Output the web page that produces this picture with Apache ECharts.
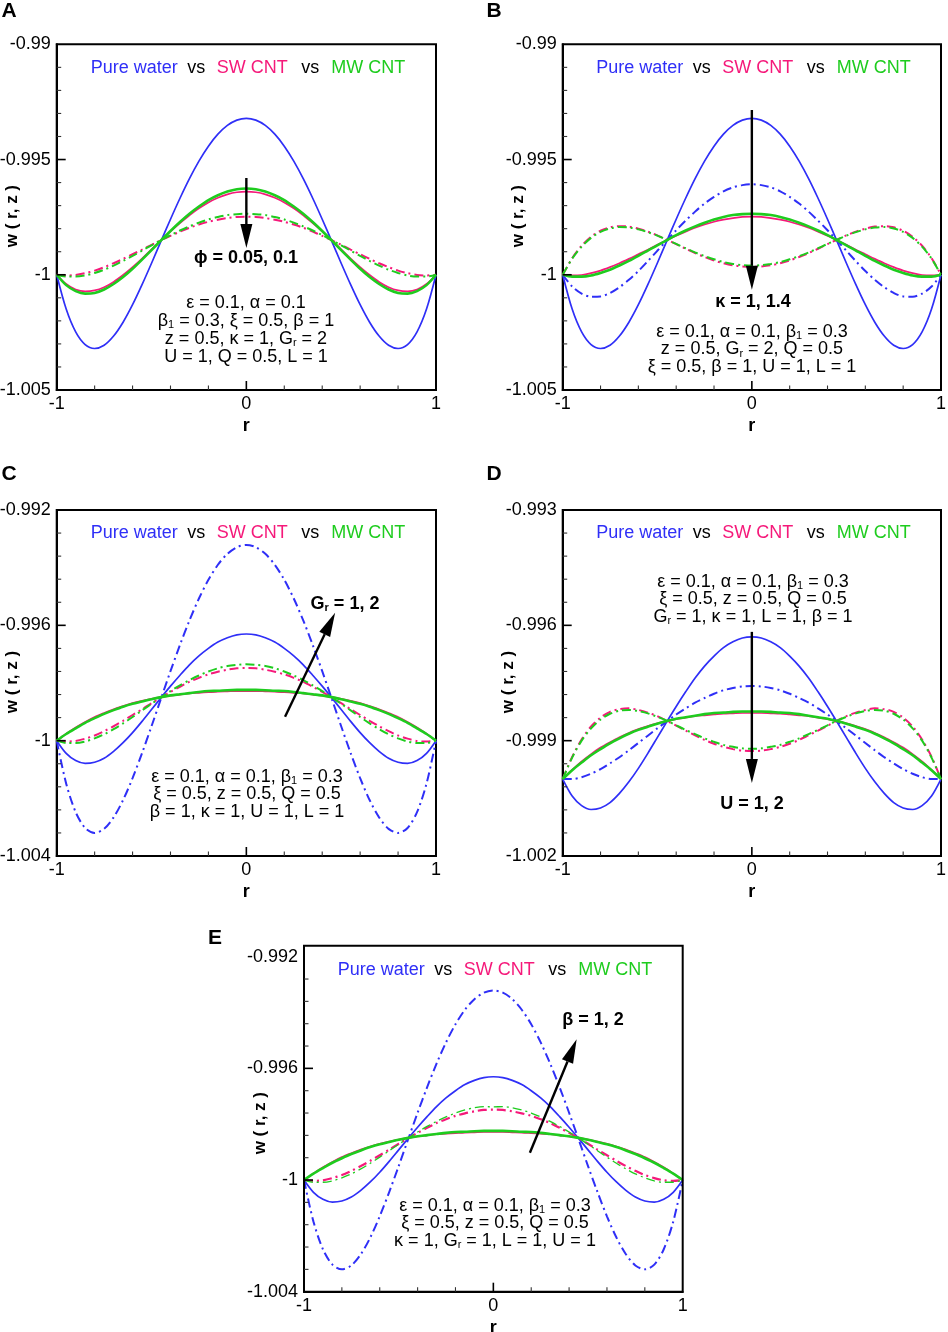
<!DOCTYPE html>
<html>
<head>
<meta charset="utf-8">
<script src="https://cdn.jsdelivr.net/npm/echarts@6.0.0/dist/echarts.min.js"></script>
<style>
html, body { margin: 0; padding: 0; background: #fff; }
#main { width: 948px; height: 1332px; }
</style>
</head>
<body>
<div id="main"></div>
<script>
// radial positions shared by all curves
var rVals = [-1, -0.95, -0.9, -0.85, -0.8, -0.75, -0.7, -0.65, -0.6, -0.55, -0.5, -0.45, -0.4, -0.35, -0.3, -0.25, -0.2, -0.15, -0.1, -0.05,
	0, 0.05, 0.1, 0.15, 0.2, 0.25, 0.3, 0.35, 0.4, 0.45, 0.5, 0.55, 0.6, 0.65, 0.7, 0.75, 0.8, 0.85, 0.9, 0.95, 1];

// (A) phi = 0.05 (solid), 0.1 (dash-dot)
var aWater   = [-1, -1.00149, -1.00248, -1.00303, -1.00320, -1.00306, -1.00266, -1.00206, -1.00130, -1.00043, -0.99950, -0.99854, -0.99759, -0.99668, -0.99583, -0.99507, -0.99442, -0.99390, -0.99352, -0.99329, -0.99321, -0.99329, -0.99352, -0.99390, -0.99442, -0.99507, -0.99583, -0.99668, -0.99759, -0.99854, -0.99950, -1.00043, -1.00130, -1.00206, -1.00266, -1.00306, -1.00320, -1.00303, -1.00248, -1.00149, -1];
var aSwSolid = [-1, -1.00040, -1.00064, -1.00072, -1.00068, -1.00054, -1.00031, -1.00001, -0.99967, -0.99930, -0.99890, -0.99851, -0.99812, -0.99776, -0.99742, -0.99712, -0.99686, -0.99666, -0.99651, -0.99642, -0.99639, -0.99642, -0.99651, -0.99666, -0.99686, -0.99712, -0.99742, -0.99776, -0.99812, -0.99851, -0.99890, -0.99930, -0.99967, -1.00001, -1.00031, -1.00054, -1.00068, -1.00072, -1.00064, -1.00040, -1];
var aMwSolid = [-1, -1.00045, -1.00071, -1.00082, -1.00079, -1.00064, -1.00040, -1.00010, -0.99974, -0.99934, -0.99893, -0.99851, -0.99810, -0.99771, -0.99735, -0.99704, -0.99676, -0.99655, -0.99639, -0.99629, -0.99626, -0.99629, -0.99639, -0.99655, -0.99676, -0.99704, -0.99735, -0.99771, -0.99810, -0.99851, -0.99893, -0.99934, -0.99974, -1.00010, -1.00040, -1.00064, -1.00079, -1.00082, -1.00071, -1.00045, -1];
var aSwDash  = [-1, -1.00003, -1.00001, -0.99993, -0.99982, -0.99967, -0.99950, -0.99931, -0.99911, -0.99891, -0.99870, -0.99850, -0.99831, -0.99813, -0.99796, -0.99782, -0.99770, -0.99761, -0.99754, -0.99749, -0.99748, -0.99749, -0.99754, -0.99761, -0.99770, -0.99782, -0.99796, -0.99813, -0.99831, -0.99850, -0.99870, -0.99891, -0.99911, -0.99931, -0.99950, -0.99967, -0.99982, -0.99993, -1.00001, -1.00003, -1];
var aMwDash  = [-1, -1.00008, -1.00008, -1.00003, -0.99992, -0.99978, -0.99960, -0.99940, -0.99918, -0.99895, -0.99872, -0.99850, -0.99828, -0.99808, -0.99790, -0.99774, -0.99760, -0.99749, -0.99741, -0.99737, -0.99735, -0.99737, -0.99741, -0.99749, -0.99760, -0.99774, -0.99790, -0.99808, -0.99828, -0.99850, -0.99872, -0.99895, -0.99918, -0.99940, -0.99960, -0.99978, -0.99992, -1.00003, -1.00008, -1.00008, -1];

// (B) kappa = 1 (solid), 1.4 (dash-dot)
var bWaterSolid = [-1, -1.00149, -1.00248, -1.00303, -1.00320, -1.00306, -1.00266, -1.00206, -1.00130, -1.00043, -0.99950, -0.99854, -0.99759, -0.99668, -0.99583, -0.99507, -0.99442, -0.99390, -0.99352, -0.99329, -0.99321, -0.99329, -0.99352, -0.99390, -0.99442, -0.99507, -0.99583, -0.99668, -0.99759, -0.99854, -0.99950, -1.00043, -1.00130, -1.00206, -1.00266, -1.00306, -1.00320, -1.00303, -1.00248, -1.00149, -1];
var bWaterDash  = [-1, -1.00051, -1.00082, -1.00095, -1.00094, -1.00079, -1.00054, -1.00022, -0.99984, -0.99941, -0.99896, -0.99851, -0.99807, -0.99765, -0.99726, -0.99691, -0.99662, -0.99638, -0.99621, -0.99611, -0.99607, -0.99611, -0.99621, -0.99638, -0.99662, -0.99691, -0.99726, -0.99765, -0.99807, -0.99851, -0.99896, -0.99941, -0.99984, -1.00022, -1.00054, -1.00079, -1.00094, -1.00095, -1.00082, -1.00051, -1];
var bSwSolid    = [-1, -1.00003, -1.00001, -0.99993, -0.99982, -0.99967, -0.99950, -0.99931, -0.99911, -0.99891, -0.99870, -0.99850, -0.99831, -0.99813, -0.99796, -0.99782, -0.99770, -0.99761, -0.99754, -0.99749, -0.99748, -0.99749, -0.99754, -0.99761, -0.99770, -0.99782, -0.99796, -0.99813, -0.99831, -0.99850, -0.99870, -0.99891, -0.99911, -0.99931, -0.99950, -0.99967, -0.99982, -0.99993, -1.00001, -1.00003, -1];
var bMwSolid    = [-1, -1.00008, -1.00008, -1.00003, -0.99992, -0.99978, -0.99960, -0.99940, -0.99918, -0.99895, -0.99872, -0.99850, -0.99828, -0.99808, -0.99790, -0.99774, -0.99760, -0.99749, -0.99741, -0.99737, -0.99735, -0.99737, -0.99741, -0.99749, -0.99760, -0.99774, -0.99790, -0.99808, -0.99828, -0.99850, -0.99872, -0.99895, -0.99918, -0.99940, -0.99960, -0.99978, -0.99992, -1.00003, -1.00008, -1.00008, -1];
var bSwDash     = [-1, -0.99928, -0.99874, -0.99835, -0.99809, -0.99794, -0.99789, -0.99791, -0.99800, -0.99813, -0.99829, -0.99848, -0.99867, -0.99887, -0.99906, -0.99923, -0.99938, -0.99950, -0.99959, -0.99964, -0.99966, -0.99964, -0.99959, -0.99950, -0.99938, -0.99923, -0.99906, -0.99887, -0.99867, -0.99848, -0.99829, -0.99813, -0.99800, -0.99791, -0.99789, -0.99794, -0.99809, -0.99835, -0.99874, -0.99928, -1];
var bMwDash     = [-1, -0.99930, -0.99878, -0.99840, -0.99814, -0.99799, -0.99793, -0.99795, -0.99803, -0.99815, -0.99830, -0.99848, -0.99866, -0.99885, -0.99903, -0.99919, -0.99933, -0.99945, -0.99953, -0.99958, -0.99960, -0.99958, -0.99953, -0.99945, -0.99933, -0.99919, -0.99903, -0.99885, -0.99866, -0.99848, -0.99830, -0.99815, -0.99803, -0.99795, -0.99793, -0.99799, -0.99814, -0.99840, -0.99878, -0.99930, -1];

// (C) Gr = 1 (solid), 2 (dash-dot)
var cWaterSolid = [-1, -1.00044, -1.00069, -1.00079, -1.00075, -1.00061, -1.00037, -1.00007, -0.99972, -0.99933, -0.99892, -0.99851, -0.99811, -0.99773, -0.99737, -0.99706, -0.99680, -0.99658, -0.99643, -0.99633, -0.99630, -0.99633, -0.99643, -0.99658, -0.99680, -0.99706, -0.99737, -0.99773, -0.99811, -0.99851, -0.99892, -0.99933, -0.99972, -1.00007, -1.00037, -1.00061, -1.00075, -1.00079, -1.00069, -1.00044, -1];
var cWaterDash  = [-1, -1.00149, -1.00248, -1.00303, -1.00320, -1.00306, -1.00266, -1.00206, -1.00130, -1.00043, -0.99950, -0.99854, -0.99759, -0.99668, -0.99583, -0.99507, -0.99442, -0.99390, -0.99352, -0.99329, -0.99321, -0.99329, -0.99352, -0.99390, -0.99442, -0.99507, -0.99583, -0.99668, -0.99759, -0.99854, -0.99950, -1.00043, -1.00130, -1.00206, -1.00266, -1.00306, -1.00320, -1.00303, -1.00248, -1.00149, -1];
var cSwSolid    = [-1, -0.99976, -0.99954, -0.99935, -0.99918, -0.99904, -0.99891, -0.99880, -0.99870, -0.99862, -0.99855, -0.99849, -0.99844, -0.99840, -0.99836, -0.99834, -0.99832, -0.99830, -0.99829, -0.99828, -0.99828, -0.99828, -0.99829, -0.99830, -0.99832, -0.99834, -0.99836, -0.99840, -0.99844, -0.99849, -0.99855, -0.99862, -0.99870, -0.99880, -0.99891, -0.99904, -0.99918, -0.99935, -0.99954, -0.99976, -1];
var cMwSolid    = [-1, -0.99977, -0.99957, -0.99938, -0.99922, -0.99907, -0.99894, -0.99882, -0.99872, -0.99864, -0.99856, -0.99849, -0.99843, -0.99839, -0.99835, -0.99831, -0.99828, -0.99827, -0.99825, -0.99824, -0.99824, -0.99824, -0.99825, -0.99827, -0.99828, -0.99831, -0.99835, -0.99839, -0.99843, -0.99849, -0.99856, -0.99864, -0.99872, -0.99882, -0.99894, -0.99907, -0.99922, -0.99938, -0.99957, -0.99977, -1];
var cSwDash     = [-1, -1.00003, -1.00001, -0.99993, -0.99982, -0.99967, -0.99950, -0.99931, -0.99911, -0.99891, -0.99870, -0.99850, -0.99831, -0.99813, -0.99796, -0.99782, -0.99770, -0.99761, -0.99754, -0.99749, -0.99748, -0.99749, -0.99754, -0.99761, -0.99770, -0.99782, -0.99796, -0.99813, -0.99831, -0.99850, -0.99870, -0.99891, -0.99911, -0.99931, -0.99950, -0.99967, -0.99982, -0.99993, -1.00001, -1.00003, -1];
var cMwDash     = [-1, -1.00008, -1.00008, -1.00003, -0.99992, -0.99978, -0.99960, -0.99940, -0.99918, -0.99895, -0.99872, -0.99850, -0.99828, -0.99808, -0.99790, -0.99774, -0.99760, -0.99749, -0.99741, -0.99737, -0.99735, -0.99737, -0.99741, -0.99749, -0.99760, -0.99774, -0.99790, -0.99808, -0.99828, -0.99850, -0.99872, -0.99895, -0.99918, -0.99940, -0.99960, -0.99978, -0.99992, -1.00003, -1.00008, -1.00008, -1];

// (D) U = 1 (solid), 2 (dash-dot)
var dWaterSolid = [-1, -1.00044, -1.00069, -1.00079, -1.00075, -1.00061, -1.00037, -1.00007, -0.99972, -0.99933, -0.99892, -0.99851, -0.99811, -0.99773, -0.99737, -0.99706, -0.99680, -0.99658, -0.99643, -0.99633, -0.99630, -0.99633, -0.99643, -0.99658, -0.99680, -0.99706, -0.99737, -0.99773, -0.99811, -0.99851, -0.99892, -0.99933, -0.99972, -1.00007, -1.00037, -1.00061, -1.00075, -1.00079, -1.00069, -1.00044, -1];
var dWaterDash  = [-1, -1, -0.99995, -0.99986, -0.99974, -0.99959, -0.99943, -0.99925, -0.99906, -0.99887, -0.99868, -0.99850, -0.99832, -0.99816, -0.99801, -0.99789, -0.99778, -0.99769, -0.99763, -0.99759, -0.99758, -0.99759, -0.99763, -0.99769, -0.99778, -0.99789, -0.99801, -0.99816, -0.99832, -0.99850, -0.99868, -0.99887, -0.99906, -0.99925, -0.99943, -0.99959, -0.99974, -0.99986, -0.99995, -1, -1];
var dSwSolid    = [-1, -0.99976, -0.99954, -0.99935, -0.99918, -0.99904, -0.99891, -0.99880, -0.99870, -0.99862, -0.99855, -0.99849, -0.99844, -0.99840, -0.99836, -0.99834, -0.99832, -0.99830, -0.99829, -0.99828, -0.99828, -0.99828, -0.99829, -0.99830, -0.99832, -0.99834, -0.99836, -0.99840, -0.99844, -0.99849, -0.99855, -0.99862, -0.99870, -0.99880, -0.99891, -0.99904, -0.99918, -0.99935, -0.99954, -0.99976, -1];
var dMwSolid    = [-1, -0.99977, -0.99957, -0.99938, -0.99922, -0.99907, -0.99894, -0.99882, -0.99872, -0.99864, -0.99856, -0.99849, -0.99843, -0.99839, -0.99835, -0.99831, -0.99828, -0.99827, -0.99825, -0.99824, -0.99824, -0.99824, -0.99825, -0.99827, -0.99828, -0.99831, -0.99835, -0.99839, -0.99843, -0.99849, -0.99856, -0.99864, -0.99872, -0.99882, -0.99894, -0.99907, -0.99922, -0.99938, -0.99957, -0.99977, -1];
var dSwDash     = [-1, -0.99942, -0.99897, -0.99863, -0.99840, -0.99825, -0.99818, -0.99816, -0.99820, -0.99827, -0.99836, -0.99848, -0.99861, -0.99874, -0.99886, -0.99898, -0.99908, -0.99916, -0.99922, -0.99926, -0.99927, -0.99926, -0.99922, -0.99916, -0.99908, -0.99898, -0.99886, -0.99874, -0.99861, -0.99848, -0.99836, -0.99827, -0.99820, -0.99816, -0.99818, -0.99825, -0.99840, -0.99863, -0.99897, -0.99942, -1];
var dMwDash     = [-1, -0.99944, -0.99900, -0.99868, -0.99845, -0.99830, -0.99822, -0.99820, -0.99823, -0.99829, -0.99838, -0.99848, -0.99860, -0.99872, -0.99883, -0.99894, -0.99903, -0.99911, -0.99916, -0.99920, -0.99921, -0.99920, -0.99916, -0.99911, -0.99903, -0.99894, -0.99883, -0.99872, -0.99860, -0.99848, -0.99838, -0.99829, -0.99823, -0.99820, -0.99822, -0.99830, -0.99845, -0.99868, -0.99900, -0.99944, -1];

// (E) beta = 1 (solid), 2 (dash-dot)
var eWaterSolid = [-1, -1.00044, -1.00069, -1.00079, -1.00075, -1.00061, -1.00037, -1.00007, -0.99972, -0.99933, -0.99892, -0.99851, -0.99811, -0.99773, -0.99737, -0.99706, -0.99680, -0.99658, -0.99643, -0.99633, -0.99630, -0.99633, -0.99643, -0.99658, -0.99680, -0.99706, -0.99737, -0.99773, -0.99811, -0.99851, -0.99892, -0.99933, -0.99972, -1.00007, -1.00037, -1.00061, -1.00075, -1.00079, -1.00069, -1.00044, -1];
var eWaterDash  = [-1, -1.00149, -1.00248, -1.00303, -1.00320, -1.00306, -1.00266, -1.00206, -1.00130, -1.00043, -0.99950, -0.99854, -0.99759, -0.99668, -0.99583, -0.99507, -0.99442, -0.99390, -0.99352, -0.99329, -0.99321, -0.99329, -0.99352, -0.99390, -0.99442, -0.99507, -0.99583, -0.99668, -0.99759, -0.99854, -0.99950, -1.00043, -1.00130, -1.00206, -1.00266, -1.00306, -1.00320, -1.00303, -1.00248, -1.00149, -1];
var eSwSolid    = [-1, -0.99976, -0.99954, -0.99935, -0.99918, -0.99904, -0.99891, -0.99880, -0.99870, -0.99862, -0.99855, -0.99849, -0.99844, -0.99840, -0.99836, -0.99834, -0.99832, -0.99830, -0.99829, -0.99828, -0.99828, -0.99828, -0.99829, -0.99830, -0.99832, -0.99834, -0.99836, -0.99840, -0.99844, -0.99849, -0.99855, -0.99862, -0.99870, -0.99880, -0.99891, -0.99904, -0.99918, -0.99935, -0.99954, -0.99976, -1];
var eMwSolid    = [-1, -0.99977, -0.99957, -0.99938, -0.99922, -0.99907, -0.99894, -0.99882, -0.99872, -0.99864, -0.99856, -0.99849, -0.99843, -0.99839, -0.99835, -0.99831, -0.99828, -0.99827, -0.99825, -0.99824, -0.99824, -0.99824, -0.99825, -0.99827, -0.99828, -0.99831, -0.99835, -0.99839, -0.99843, -0.99849, -0.99856, -0.99864, -0.99872, -0.99882, -0.99894, -0.99907, -0.99922, -0.99938, -0.99957, -0.99977, -1];
var eSwDash     = [-1, -1.00003, -1.00001, -0.99993, -0.99982, -0.99967, -0.99950, -0.99931, -0.99911, -0.99891, -0.99870, -0.99850, -0.99831, -0.99813, -0.99796, -0.99782, -0.99770, -0.99761, -0.99754, -0.99749, -0.99748, -0.99749, -0.99754, -0.99761, -0.99770, -0.99782, -0.99796, -0.99813, -0.99831, -0.99850, -0.99870, -0.99891, -0.99911, -0.99931, -0.99950, -0.99967, -0.99982, -0.99993, -1.00001, -1.00003, -1];
var eMwDash     = [-1, -1.00008, -1.00008, -1.00003, -0.99992, -0.99978, -0.99960, -0.99940, -0.99918, -0.99895, -0.99872, -0.99850, -0.99828, -0.99808, -0.99790, -0.99774, -0.99760, -0.99749, -0.99741, -0.99737, -0.99738, -0.99737, -0.99741, -0.99749, -0.99760, -0.99774, -0.99790, -0.99808, -0.99828, -0.99850, -0.99872, -0.99895, -0.99918, -0.99940, -0.99960, -0.99978, -0.99992, -1.00003, -1.00008, -1.00008, -1];

// axis ranges per panel [min, max, interval]
var yRanges = [[-1.005, -0.99, 0.005], [-1.005, -0.99, 0.005], [-1.004, -0.992, 0.004], [-1.002, -0.993, 0.003], [-1.004, -0.992, 0.004]];
var panelLetters = ['A', 'B', 'C', 'D', 'E'];
var legendWords = ['Pure water', 'vs', 'SW CNT', 'vs', 'MW CNT'];
var arrowLabels = ['ϕ = 0.05, 0.1', 'κ = 1, 1.4', 'G_r = 1, 2', 'U = 1, 2', 'β = 1, 2'];
var arrowFrom = [[0, -0.9958], [0, -0.99285], [0.204, -0.99917], [0, -0.99617], [0.193, -0.99902]];
var arrowTo   = [[0, -0.99884], [0, -1.00065], [0.468, -0.99556], [0, -1.0001], [0.44, -0.99496]];
var paramLines = [
	['ε = 0.1, α = 0.1', 'β_1 = 0.3, ξ = 0.5, β = 1', 'z = 0.5, κ = 1, G_r = 2', 'U = 1, Q = 0.5, L = 1'],
	['ε = 0.1, α = 0.1, β_1 = 0.3', 'z = 0.5, G_r = 2, Q = 0.5', 'ξ = 0.5, β = 1, U = 1, L = 1'],
	['ε = 0.1, α = 0.1, β_1 = 0.3', 'ξ = 0.5, z = 0.5, Q = 0.5', 'β = 1, κ = 1, U = 1, L = 1'],
	['ε = 0.1, α = 0.1, β_1 = 0.3', 'ξ = 0.5, z = 0.5, Q = 0.5', 'G_r = 1, κ = 1, L = 1, β = 1'],
	['ε = 0.1, α = 0.1, β_1 = 0.3', 'ξ = 0.5, z = 0.5, Q = 0.5', 'κ = 1, G_r = 1, L = 1, U = 1']
];

var BLUE = '#2f2ff7', PINK = '#f5197a', GREEN = '#1ecc1e';
var FONT = '"Liberation Sans", Arial, Helvetica, sans-serif';
var DASHDOT = [9, 4, 2, 4];
var legendColors = [BLUE, '#000', PINK, '#000', GREEN];
var legendOffsets = [-112, -50, 6, 64, 122];
var MINOR_SPLIT = 5;

// layout of each box (pixels)
var boxes = [
	{left: 56.7, top: 44.3, width: 379.3, height: 345.7, nameX: 12, legendY: 68, params: [246, 303, 18], label: [246, 258], letter: [9, 11]},
	{left: 562.7, top: 44.3, width: 378.3, height: 345.7, nameX: 518, legendY: 68, params: [752, 332, 17.5], label: [753, 302], letter: [494, 11]},
	{left: 56.7, top: 510, width: 379.3, height: 346, nameX: 12, legendY: 533, params: [247, 777, 17.5], label: [345, 604], letter: [9, 474]},
	{left: 562.7, top: 510, width: 378.3, height: 346, nameX: 508, legendY: 533, params: [753, 582, 17.5], label: [752, 804], letter: [494, 474]},
	{left: 304, top: 956.7, width: 378.7, height: 335, nameX: 260, legendY: 970, params: [495, 1206, 17.5], label: [593, 1020], letter: [215, 938], frameTop: 945.7}
];

var curves = [
	[[aWater, BLUE, 0, 1.7], [aSwDash, PINK, 1, 2], [aSwSolid, PINK, 0, 1.7], [aMwDash, GREEN, 1, 2], [aMwSolid, GREEN, 0, 2.6]],
	[[bWaterDash, BLUE, 1, 2], [bWaterSolid, BLUE, 0, 1.7], [bSwDash, PINK, 1, 2], [bSwSolid, PINK, 0, 1.7], [bMwDash, GREEN, 1, 2], [bMwSolid, GREEN, 0, 2.6]],
	[[cWaterDash, BLUE, 1, 2], [cWaterSolid, BLUE, 0, 1.7], [cSwDash, PINK, 1, 2], [cSwSolid, PINK, 0, 1.7], [cMwDash, GREEN, 1, 2], [cMwSolid, GREEN, 0, 2.6]],
	[[dWaterDash, BLUE, 1, 2], [dWaterSolid, BLUE, 0, 1.7], [dSwDash, PINK, 1, 2], [dSwSolid, PINK, 0, 1.7], [dMwDash, GREEN, 1, 2], [dMwSolid, GREEN, 0, 2.6]],
	[[eWaterDash, BLUE, 1, 2], [eWaterSolid, BLUE, 0, 1.7], [eSwDash, PINK, 1, 2.2], [eSwSolid, PINK, 0, 1.7], [eMwDash, GREEN, 1, 1.3], [eMwSolid, GREEN, 0, 2.6]]
];

function toRich(s, cls) {
	return s.split(/(_\w)/).map(function(p) {
		if (!p) return '';
		if (p.charAt(0) === '_') return '{s|' + p.slice(1) + '}';
		return '{' + cls + '|' + p + '}';
	}).join('');
}

var chart = echarts.init(document.getElementById('main'), null, {renderer: 'canvas'});

var grids = [], xAxes = [], yAxes = [], series = [];
boxes.forEach(function(b, i) {
	grids.push({
		left: b.left, top: b.top, width: b.width, height: b.height,
		containLabel: false, outerBoundsMode: 'none',
		show: !b.frameTop, borderColor: '#000', borderWidth: 2
	});
	xAxes.push({
		type: 'value', gridIndex: i, min: -1, max: 1, interval: 1,
		name: 'r', nameLocation: 'middle', nameGap: 27,
		nameTextStyle: {fontFamily: FONT, fontSize: 18, fontWeight: 'bold', color: '#000'},
		axisLine: {show: true, onZero: false, lineStyle: {color: '#000', width: 2}},
		axisTick: {show: false},
		axisLabel: {fontFamily: FONT, fontSize: 18, color: '#000', margin: 5},
		splitLine: {show: false}
	});
	yAxes.push({
		type: 'value', gridIndex: i, min: yRanges[i][0], max: yRanges[i][1], interval: yRanges[i][2],
		axisLine: {show: true, onZero: false, lineStyle: {color: '#000', width: 2}},
		axisTick: {show: false},
		axisLabel: {fontFamily: FONT, fontSize: 18, color: '#000', margin: 6},
		splitLine: {show: false}
	});
	curves[i].forEach(function(c) {
		series.push({
			type: 'line', xAxisIndex: i, yAxisIndex: i, smooth: 0.3, showSymbol: false, silent: true,
			data: rVals.map(function(r, k) { return [r, c[0][k]]; }),
			lineStyle: {color: c[1], width: c[3], type: c[2] ? DASHDOT : 'solid'}
		});
	});
});

chart.setOption({
	backgroundColor: '#fff',
	animation: false,
	grid: grids,
	xAxis: xAxes,
	yAxis: yAxes,
	series: series
});

// annotations
var graphics = [];
function tickLine(x1, y1, x2, y2, major) {
	graphics.push({type: 'line', shape: {x1: x1, y1: y1, x2: x2, y2: y2},
		style: {stroke: major ? '#000' : '#333', lineWidth: major ? 1.6 : 1.1}, z: 15});
}
boxes.forEach(function(b, i) {
	var cx = b.left + b.width / 2;
	var bottom = b.top + b.height;
	if (b.frameTop) {
		graphics.push({type: 'rect', shape: {x: b.left, y: b.frameTop, width: b.width, height: bottom - b.frameTop},
			style: {fill: 'none', stroke: '#000', lineWidth: 2}, z: 10});
	}
	// inward ticks on left and bottom edges, placed through the axis scales
	var yr = yRanges[i];
	var nY = Math.round((yr[1] - yr[0]) / yr[2]) * MINOR_SPLIT;
	for (var k = 1; k < nY; k++) {
		var py = chart.convertToPixel({gridIndex: i}, [-1, yr[0] + k * yr[2] / MINOR_SPLIT])[1];
		var maj = k % MINOR_SPLIT === 0;
		tickLine(b.left, py, b.left + (maj ? 9 : 4.5), py, maj);
	}
	for (var m = 1; m < 2 * MINOR_SPLIT; m++) {
		var px = chart.convertToPixel({gridIndex: i}, [-1 + m / MINOR_SPLIT, yr[0]])[0];
		var majX = m % MINOR_SPLIT === 0;
		tickLine(px, bottom, px, bottom - (majX ? 9 : 4.5), majX);
	}
	// y-axis title, rotated to read bottom to top
	graphics.push({type: 'text', x: b.nameX, y: b.top + b.height * 0.5 - 1, rotation: Math.PI / 2, style: {
		text: 'w ( r, z )', fontFamily: FONT, fontSize: 17, fontWeight: 'bold', fill: '#000', align: 'center', verticalAlign: 'middle'}});
	graphics.push({type: 'text', x: b.letter[0], y: b.letter[1], style: {
		text: panelLetters[i], fontFamily: FONT, fontSize: 21, fontWeight: 'bold', fill: '#000', align: 'center', verticalAlign: 'middle'}});
	legendWords.forEach(function(w, j) {
		graphics.push({type: 'text', x: cx + legendOffsets[j], y: b.legendY, style: {
			text: w, fontFamily: FONT, fontSize: 18, fill: legendColors[j], align: 'center', verticalAlign: 'middle'}});
	});
	paramLines[i].forEach(function(line, j) {
		graphics.push({type: 'text', x: b.params[0], y: b.params[1] + j * b.params[2], style: {
			text: toRich(line, 't'), align: 'center', verticalAlign: 'middle', fontFamily: FONT, fontSize: 18,
			rich: {
				t: {fontFamily: FONT, fontSize: 18, fill: '#000'},
				s: {fontFamily: FONT, fontSize: 11, fill: '#000', padding: [8, 0, 0, 0]}
			}}});
	});
	graphics.push({type: 'text', x: b.label[0], y: b.label[1], style: {
		text: toRich(arrowLabels[i], 't'), align: 'center', verticalAlign: 'middle', fontFamily: FONT, fontSize: 18,
		rich: {
			t: {fontFamily: FONT, fontSize: 18, fontWeight: 'bold', fill: '#000'},
			s: {fontFamily: FONT, fontSize: 11, fontWeight: 'bold', fill: '#000', padding: [8, 0, 0, 0]}
		}}});

	var p0 = chart.convertToPixel({gridIndex: i}, arrowFrom[i]);
	var p1 = chart.convertToPixel({gridIndex: i}, arrowTo[i]);
	var dx = p1[0] - p0[0], dy = p1[1] - p0[1];
	var len = Math.sqrt(dx * dx + dy * dy);
	var ux = dx / len, uy = dy / len;
	var headLen = 24, headW = 6;
	var bx = p1[0] - ux * headLen, by = p1[1] - uy * headLen;
	graphics.push({type: 'line', shape: {x1: p0[0], y1: p0[1], x2: bx, y2: by}, style: {stroke: '#000', lineWidth: 2.4}, z: 20});
	graphics.push({type: 'polygon', shape: {points: [[p1[0], p1[1]], [bx - uy * headW, by + ux * headW], [bx + uy * headW, by - ux * headW]]},
		style: {fill: '#000'}, z: 20});
});

chart.setOption({graphic: graphics});
</script>
</body>
</html>
